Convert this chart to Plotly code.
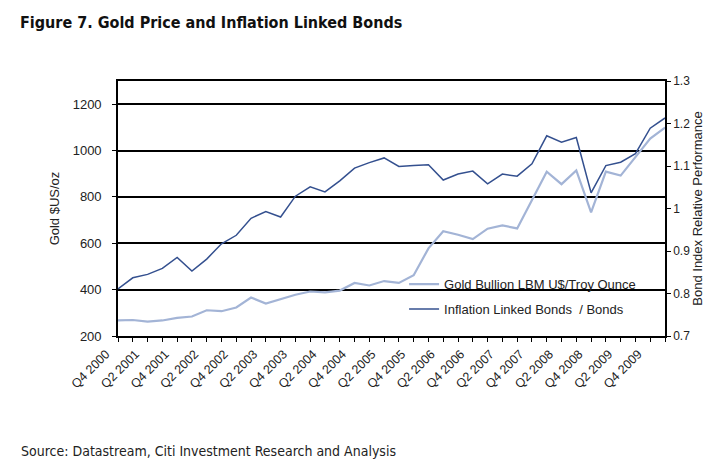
import plotly.graph_objects as go

quarters = ["Q4 2000",
            "Q1 2001", "Q2 2001", "Q3 2001", "Q4 2001",
            "Q1 2002", "Q2 2002", "Q3 2002", "Q4 2002",
            "Q1 2003", "Q2 2003", "Q3 2003", "Q4 2003",
            "Q1 2004", "Q2 2004", "Q3 2004", "Q4 2004",
            "Q1 2005", "Q2 2005", "Q3 2005", "Q4 2005",
            "Q1 2006", "Q2 2006", "Q3 2006", "Q4 2006",
            "Q1 2007", "Q2 2007", "Q3 2007", "Q4 2007",
            "Q1 2008", "Q2 2008", "Q3 2008", "Q4 2008",
            "Q1 2009", "Q2 2009", "Q3 2009", "Q4 2009",
            "Q1 2010"]

tick_labels = ["Q4 2000", "Q2 2001", "Q4 2001", "Q2 2002", "Q4 2002", "Q2 2003",
               "Q4 2003", "Q2 2004", "Q4 2004", "Q2 2005", "Q4 2005", "Q2 2006",
               "Q4 2006", "Q2 2007", "Q4 2007", "Q2 2008", "Q4 2008", "Q2 2009",
               "Q4 2009"]

gold = [267, 269, 262, 267, 278, 284, 311, 307, 323, 366, 340, 358, 378,
        392, 388, 396, 429, 418, 437, 429, 462, 578, 652, 637, 618, 663,
        677, 664, 788, 909, 855, 914, 733, 909, 892, 970, 1052, 1099]

bonds = [0.811, 0.837, 0.845, 0.859, 0.885, 0.853, 0.881, 0.917, 0.937, 0.977,
         0.993, 0.980, 1.029, 1.051, 1.039, 1.065, 1.095, 1.108, 1.119, 1.099,
         1.101, 1.103, 1.067, 1.081, 1.088, 1.058, 1.081, 1.076, 1.105, 1.171,
         1.156, 1.167, 1.037, 1.101, 1.109, 1.129, 1.189, 1.213]

left_ticks = [200, 400, 600, 800, 1000, 1200]
right_ticks = [0.7, 0.8, 0.9, 1.0, 1.1, 1.2, 1.3]
right_tick_text = ["0.7", "0.8", "0.9", "1", "1.1", "1.2", "1.3"]

FONT = "Liberation Sans, Arial, sans-serif"
NARROW = "DejaVu Sans Condensed, Liberation Sans Narrow, sans-serif"

# the page body has an 8px default margin; figure is sized to fit inside
W, H = 707, 461
OFF = 8

ticktext = [q if q in tick_labels else "" for q in quarters]

fig = go.Figure()
fig.add_trace(go.Scatter(
    x=quarters, y=gold, mode="lines", name="Gold Bullion LBM U$/Troy Ounce",
    line=dict(color="#a3b4d6", width=2.2), yaxis="y", legendgroup="g1"))
fig.add_trace(go.Scatter(
    x=quarters, y=bonds, mode="lines", name="Inflation Linked Bonds  / Bonds",
    line=dict(color="#34508f", width=1.5), yaxis="y2", legendgroup="g2"))

fig.update_layout(
    width=W, height=H,
    margin=dict(l=117.5 - OFF, r=715 - 657.5 - OFF, t=80.5 - OFF, b=469 - 328.5 - OFF,
                autoexpand=False),
    paper_bgcolor="white", plot_bgcolor="white",
    font=dict(family=FONT, size=12, color="#222"),
    title=dict(text="<b>Figure 7. Gold Price and Inflation Linked Bonds</b>",
               font=dict(family=NARROW, size=16, color="#111"),
               xref="container", x=(20 - OFF) / W, xanchor="left",
               yref="container", y=1 - (22 - OFF) / H, yanchor="middle"),
    xaxis=dict(
        type="category", range=[0, len(quarters) - 1],
        tickmode="array", tickvals=quarters, ticktext=ticktext,
        tickangle=-45, ticks="outside", ticklen=4, tickcolor="black",
        ticklabelshift=-12,
        tickfont=dict(size=12.5, color="#222"),
        showline=True, linecolor="black", linewidth=1.6, mirror=True,
        showgrid=False, zeroline=False),
    yaxis=dict(
        range=[200, 1300], tickvals=left_ticks,
        ticks="outside", ticklen=4, tickcolor="black",
        ticklabelstandoff=8, tickfont=dict(size=13, color="#222"),
        showline=True, linecolor="black", linewidth=1.6,
        showgrid=True, gridcolor="black", gridwidth=1.9, zeroline=False,
        title=dict(text="Gold $US/oz", standoff=10,
                   font=dict(size=13, color="#222"))),
    yaxis2=dict(
        range=[0.7, 1.3], tickvals=right_ticks, ticktext=right_tick_text,
        overlaying="y", side="right",
        ticks="outside", ticklen=4, tickcolor="black",
        ticklabelstandoff=0, tickfont=dict(size=12, color="#222"),
        showline=True, linecolor="black", linewidth=1.6,
        showgrid=False, zeroline=False,
        title=dict(text="Bond Index Relative Performance", standoff=4,
                   font=dict(size=13, color="#222"))),
    legend=dict(x=0.523, xanchor="left", y=0.262, yanchor="top",
                bgcolor="rgba(0,0,0,0)", borderwidth=0, tracegroupgap=5,
                traceorder="grouped",
                font=dict(size=13, color="#222")),
    showlegend=True,
    # white legend panel: hides the gridline behind the legend, stays under the traces
    shapes=[dict(type="rect", xref="paper", yref="paper",
                 x0=0.521, x1=0.996, y0=0.03, y1=0.215,
                 fillcolor="white", line=dict(width=0), layer="between")],
    annotations=[dict(
        text="Source: Datastream, Citi Investment Research and Analysis",
        xref="paper", yref="paper", x=(20 - 117.5) / 540, y=(328.5 - 440) / 248,
        xanchor="left", yanchor="middle", showarrow=False,
        font=dict(family=NARROW, size=14, color="#222"))],
)

fig.write_html("out.html")
